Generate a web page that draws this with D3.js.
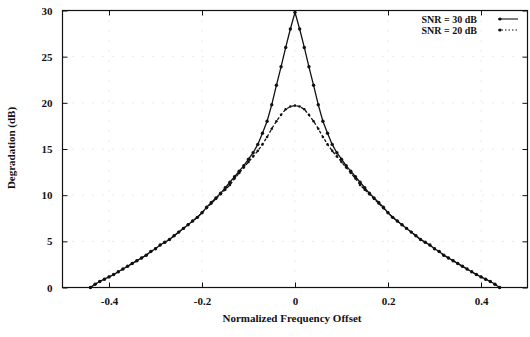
<!DOCTYPE html>
<html>
<head>
<meta charset="UTF-8">
<title>Degradation vs frequency offset</title>
<style>
  body { margin: 0; background: #fff; }
  svg text { font-family: "Liberation Serif", "Times New Roman", serif; fill: #111; }
</style>
</head>
<body>
<script src="https://cdn.jsdelivr.net/npm/d3@7"></script>
<script>

    // normalized frequency offsets, -0.44 .. 0.44 in steps of 0.01
    var offsets = d3.range(-44, 45).map(function(i) { return i / 100; });

    var snr30 = [0.0, 0.35, 0.65, 0.9, 1.15, 1.4, 1.7, 2.0, 2.3, 2.6, 2.9, 3.2, 3.5, 3.9, 4.2,
        4.6, 4.9, 5.2, 5.6, 6.0, 6.4, 6.8, 7.2, 7.6, 8.1, 8.7, 9.2, 9.7, 10.2, 10.8, 11.4,
        12.0, 12.6, 13.2, 13.9, 14.6, 15.5, 16.7, 18.0, 19.8, 21.9, 23.9, 26.0, 28.0,
        29.8,
        28.0, 26.0, 23.9, 21.9, 19.8, 18.0, 16.7, 15.5, 14.6, 13.9, 13.2, 12.6, 12.0, 11.4,
        10.8, 10.2, 9.7, 9.2, 8.7, 8.1, 7.6, 7.2, 6.8, 6.4, 6.0, 5.6, 5.2, 4.9, 4.6, 4.2,
        3.9, 3.5, 3.2, 2.9, 2.6, 2.3, 2.0, 1.7, 1.4, 1.15, 0.9, 0.65, 0.35, 0.0];

    var snr20 = [0.0, 0.35, 0.65, 0.9, 1.15, 1.4, 1.7, 2.0, 2.3, 2.6, 2.9, 3.2, 3.5, 3.9, 4.2,
        4.6, 4.9, 5.2, 5.6, 6.0, 6.4, 6.8, 7.2, 7.6, 8.1, 8.6, 9.1, 9.6, 10.1, 10.6, 11.1,
        11.8, 12.4, 13.0, 13.6, 14.2, 14.8, 15.5, 16.3, 17.2, 18.0, 18.7, 19.3, 19.6,
        19.7,
        19.6, 19.3, 18.7, 18.0, 17.2, 16.3, 15.5, 14.8, 14.2, 13.6, 13.0, 12.4, 11.8, 11.1,
        10.6, 10.1, 9.6, 9.1, 8.6, 8.1, 7.6, 7.2, 6.8, 6.4, 6.0, 5.6, 5.2, 4.9, 4.6, 4.2,
        3.9, 3.5, 3.2, 2.9, 2.6, 2.3, 2.0, 1.7, 1.4, 1.15, 0.9, 0.65, 0.35, 0.0];

    var seriesNames = ['SNR = 30 dB', 'SNR = 20 dB'];
    var xTicks = [-0.4, -0.2, 0, 0.2, 0.4];
    var xTickLabels = ['-0.4', '-0.2', '0', '0.2', '0.4'];
    var yTicks = [0, 5, 10, 15, 20, 25, 30];

    var w = 530,
        h = 337;
    // plot frame (window.top is reserved, so prefixed names)
    var pLeft = 62.5, pRight = 527.5, pTop = 10.5, pBottom = 287.5;

    var svg = d3.select('body')
        .append('svg')
        .attr('width', w)
        .attr('height', h);

    var x = d3.scaleLinear().domain([-0.5, 0.5]).range([pLeft, pRight]);
    var y = d3.scaleLinear().domain([0, 30]).range([pBottom, pTop]);

    // very faint dotted grid (barely visible in the scan)
    svg.append('g').selectAll('line')
        .data(xTicks)
        .enter()
        .append('line')
        .attr('x1', function(d) { return x(d); })
        .attr('x2', function(d) { return x(d); })
        .attr('y1', pTop)
        .attr('y2', pBottom)
        .attr('stroke', '#d6d6d6')
        .attr('stroke-dasharray', '1,9');

    svg.append('g').selectAll('line')
        .data(yTicks.slice(1, -1))
        .enter()
        .append('line')
        .attr('x1', pLeft)
        .attr('x2', pRight)
        .attr('y1', function(d) { return y(d); })
        .attr('y2', function(d) { return y(d); })
        .attr('stroke', '#d6d6d6')
        .attr('stroke-dasharray', '1,9');

    // axes, ticks pointing inwards, mirrored on top and right
    var fmtX = function(d) { return xTickLabels[xTicks.indexOf(d)]; };

    var gx = svg.append('g')
        .attr('transform', 'translate(0,' + pBottom + ')')
        .call(d3.axisBottom(x).tickValues(xTicks).tickFormat(fmtX).tickSize(-5).tickPadding(10));
    var gy = svg.append('g')
        .attr('transform', 'translate(' + pLeft + ',0)')
        .call(d3.axisLeft(y).tickValues(yTicks).tickSize(-5).tickPadding(10));
    var gt = svg.append('g')
        .attr('transform', 'translate(0,' + pTop + ')')
        .call(d3.axisTop(x).tickValues(xTicks).tickFormat('').tickSize(-5));
    var gr = svg.append('g')
        .attr('transform', 'translate(' + pRight + ',0)')
        .call(d3.axisRight(y).tickValues(yTicks).tickFormat('').tickSize(-5));

    [gx, gy, gt, gr].forEach(function(g) {
        g.select('.domain').remove();
        g.selectAll('line').attr('stroke', '#111');
        g.selectAll('text')
            .attr('font-family', '"Liberation Serif", serif')
            .attr('font-size', '11px')
            .attr('font-weight', 'bold')
            .attr('fill', '#111');
    });

    svg.append('rect')
        .attr('x', pLeft)
        .attr('y', pTop)
        .attr('width', pRight - pLeft)
        .attr('height', pBottom - pTop)
        .attr('fill', 'none')
        .attr('stroke', '#111')
        .attr('stroke-width', 1.2);

    // curves
    var line = d3.line()
        .x(function(d) { return x(d[0]); })
        .y(function(d) { return y(d[1]); });

    var series = [
        { values: snr30, dash: null, r: 1.7 },
        { values: snr20, dash: '3,2', r: 1.3 }
    ];

    series.forEach(function(s) {
        var pts = offsets.map(function(o, i) { return [o, s.values[i]]; });
        svg.append('path')
            .datum(pts)
            .attr('d', line)
            .attr('fill', 'none')
            .attr('stroke', '#111')
            .attr('stroke-width', 1.3)
            .attr('stroke-dasharray', s.dash);
        svg.append('g').selectAll('circle')
            .data(pts)
            .enter()
            .append('circle')
            .attr('cx', function(d) { return x(d[0]); })
            .attr('cy', function(d) { return y(d[1]); })
            .attr('r', s.r)
            .attr('fill', '#111');
    });

    // legend
    var legend = svg.append('g');
    series.forEach(function(s, i) {
        var ly = 19 + i * 11;
        legend.append('text')
            .attr('x', 477)
            .attr('y', ly + 3.5)
            .attr('text-anchor', 'end')
            .attr('font-size', '10px')
            .attr('font-weight', 'bold')
            .text(seriesNames[i]);
        legend.append('line')
            .attr('x1', 498).attr('x2', 518)
            .attr('y1', ly).attr('y2', ly)
            .attr('stroke', '#111')
            .attr('stroke-width', 1.1)
            .attr('stroke-dasharray', i ? '1.5,2' : null);
        legend.append('circle')
            .attr('cx', 500).attr('cy', ly)
            .attr('r', 1.6)
            .attr('fill', '#111');
    });

    // axis titles
    svg.append('text')
        .attr('x', (pLeft + pRight) / 2 - 3)
        .attr('y', 322)
        .attr('text-anchor', 'middle')
        .attr('font-size', '11px')
        .attr('font-weight', 'bold')
        .text('Normalized Frequency Offset');

    svg.append('text')
        .attr('transform', 'translate(15,148) rotate(-90)')
        .attr('text-anchor', 'middle')
        .attr('font-size', '11px')
        .attr('font-weight', 'bold')
        .text('Degradation (dB)');

</script>
</body>
</html>
